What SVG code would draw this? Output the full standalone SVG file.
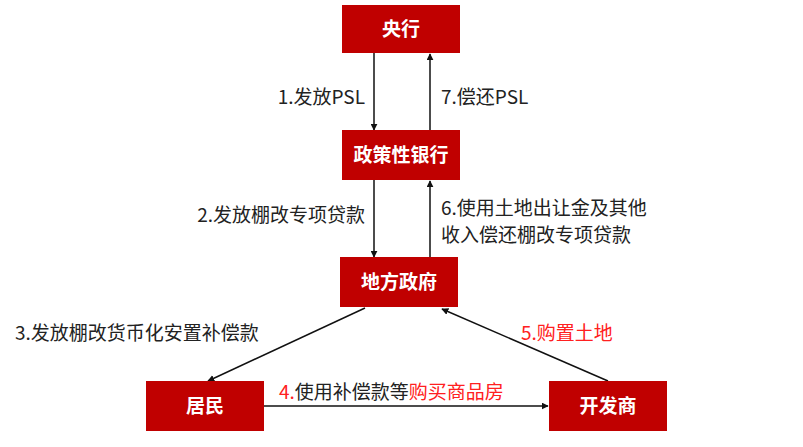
<svg xmlns="http://www.w3.org/2000/svg" width="803" height="447" viewBox="0 0 803 447">
<style>
.box{fill:#C00000}
.bl{fill:#fff;font-family:"Noto Sans CJK SC",sans-serif;font-weight:bold;font-size:19px;text-anchor:middle}
.t{fill:#222;font-family:"Noto Sans CJK SC",sans-serif;font-size:19px}
.r{fill:#FF2020}
.c{stroke:#111;stroke-width:1.5;fill:none;marker-end:url(#a)}
</style>
<defs><marker id="a" viewBox="0 0 10 10" refX="9" refY="5" markerWidth="7" markerHeight="7" orient="auto" markerUnits="userSpaceOnUse"><path d="M0,0L10,5L0,10z" fill="#111"/></marker></defs>
<rect width="803" height="447" fill="#fff"/>
<g id="connectors">
<line class="c" x1="374" y1="53" x2="374" y2="130"/>
<line class="c" x1="430" y1="130" x2="430" y2="54"/>
<line class="c" x1="374" y1="180" x2="374" y2="257"/>
<line class="c" x1="430" y1="257" x2="430" y2="181"/>
<line class="c" x1="365" y1="308" x2="208" y2="381"/>
<line class="c" x1="608" y1="381" x2="442" y2="309"/>
<line class="c" x1="264" y1="406" x2="548" y2="406"/>
</g>
<g id="n1"><rect class="box" x="342" y="5" width="118" height="48"/><text class="bl" x="401" y="36">央行</text></g>
<g id="n2"><rect class="box" x="342" y="130" width="118" height="50"/><text class="bl" x="401" y="162">政策性银行</text></g>
<g id="n3"><rect class="box" x="340" y="257" width="118" height="50"/><text class="bl" x="399" y="289">地方政府</text></g>
<g id="n4"><rect class="box" x="146" y="381" width="118" height="50"/><text class="bl" x="205" y="413">居民</text></g>
<g id="n5"><rect class="box" x="549" y="381" width="118" height="50"/><text class="bl" x="608" y="413">开发商</text></g>
<g id="labels">
<text class="t" x="365" y="104" text-anchor="end">1.发放PSL</text>
<text class="t" x="441" y="104">7.偿还PSL</text>
<text class="t" x="365" y="222" text-anchor="end">2.发放棚改专项贷款</text>
<text class="t" x="441" y="215">6.使用土地出让金及其他</text>
<text class="t" x="441" y="242">收入偿还棚改专项贷款</text>
<text class="t" x="15" y="340">3.发放棚改货币化安置补偿款</text>
<text class="t r" x="521" y="340">5.购置土地</text>
<text class="t" x="279" y="399"><tspan class="r">4.</tspan>使用补偿款等<tspan class="r">购买商品房</tspan></text>
</g>
</svg>
